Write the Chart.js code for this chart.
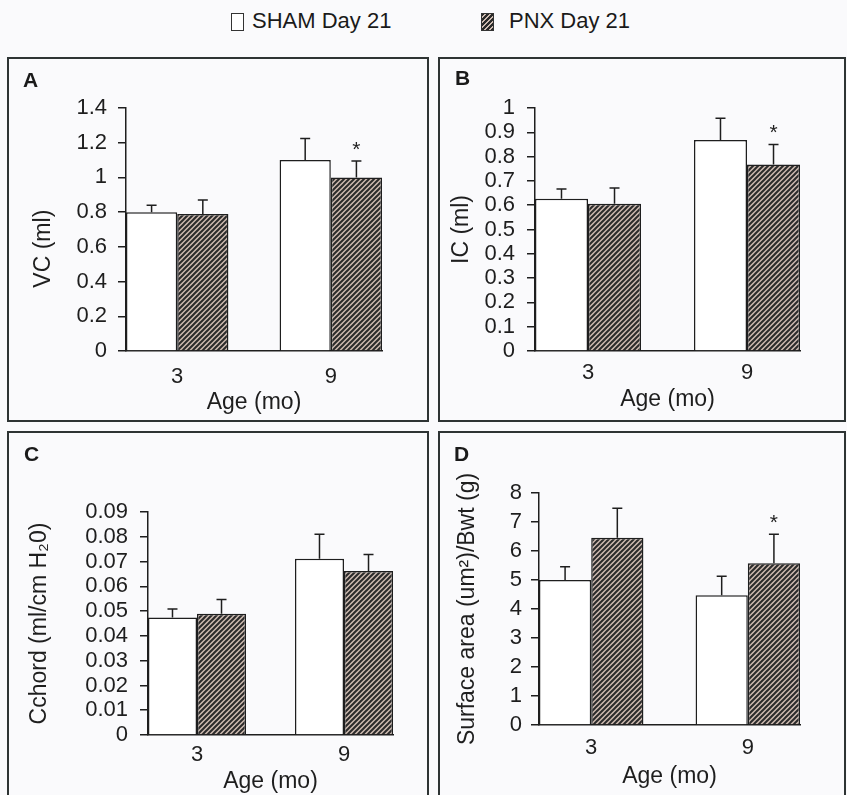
<!DOCTYPE html>
<html>
<head>
<meta charset="utf-8">
<script src="https://cdn.jsdelivr.net/npm/chart.js@4.4.0/dist/chart.umd.min.js"></script>
<style>
  body { margin: 0; width: 847px; height: 795px; position: relative; overflow: hidden;
         background: #fafafc; color: #1a1a1a; font-family: 'Liberation Sans', Arial, sans-serif; }
  .panel { position: absolute; border: 2px solid #2e3434; box-sizing: border-box; }
  .panel canvas { position: absolute; left: 0; top: 0; }
  .letter { position: absolute; font-weight: bold; font-size: 21px; line-height: 20px; }
  .leg { position: absolute; font-size: 22px; line-height: 24px; white-space: nowrap; }
  .swatch { position: absolute; border: 1.5px solid #333; box-sizing: border-box; }
</style>
</head>
<body>

<div class="swatch" style="left:231px;top:13px;width:13px;height:18px;background:#fff"></div>
<div class="leg" style="left:252px;top:9px">SHAM Day 21</div>
<div class="swatch" style="left:481px;top:13px;width:13px;height:18px;
     background:repeating-linear-gradient(135deg,#2a2a2a 0 2px,#cdbab0 2px 3.5px)"></div>
<div class="leg" style="left:509px;top:9px">PNX Day 21</div>

<div class="panel" style="left:7px;top:57px;width:422px;height:365px"><canvas id="chartA" width="418" height="361"></canvas></div>
<div class="panel" style="left:438px;top:57px;width:408px;height:365px"><canvas id="chartB" width="404" height="361"></canvas></div>
<div class="panel" style="left:7px;top:431px;width:422px;height:370px"><canvas id="chartC" width="418" height="362"></canvas></div>
<div class="panel" style="left:438px;top:431px;width:408px;height:370px"><canvas id="chartD" width="404" height="362"></canvas></div>

<div class="letter" style="left:23px;top:70px">A</div>
<div class="letter" style="left:455px;top:68px">B</div>
<div class="letter" style="left:24px;top:444px">C</div>
<div class="letter" style="left:454px;top:444px">D</div>

<script>
// ── Data ───────────────────────────────────────────────────────────────────

const AGES = ["3", "9"];

// A — vital capacity
const vcSham     = [0.80, 1.10];
const vcShamErr  = [0.04, 0.125];
const vcPnx      = [0.79, 1.00];
const vcPnxErr   = [0.08, 0.095];
const vcStars    = [false, true];
const vcTicks    = [0, 0.2, 0.4, 0.6, 0.8, 1, 1.2, 1.4];

// B — inspiratory capacity
const icSham     = [0.627, 0.868];
const icShamErr  = [0.04, 0.09];
const icPnx      = [0.606, 0.768];
const icPnxErr   = [0.065, 0.082];
const icStars    = [false, true];
const icTicks    = [0, 0.1, 0.2, 0.3, 0.4, 0.5, 0.6, 0.7, 0.8, 0.9, 1];

// C — chord compliance
const ccSham     = [0.0474, 0.0711];
const ccShamErr  = [0.0035, 0.0099];
const ccPnx      = [0.0489, 0.0662];
const ccPnxErr   = [0.0058, 0.0066];
const ccStars    = [false, false];
const ccTicks    = [0, 0.01, 0.02, 0.03, 0.04, 0.05, 0.06, 0.07, 0.08, 0.09];

// D — surface area / body weight
const saSham     = [5.0, 4.47];
const saShamErr  = [0.46, 0.66];
const saPnx      = [6.46, 5.58];
const saPnxErr   = [1.01, 1.0];
const saStars    = [false, true];
const saTicks    = [0, 1, 2, 3, 4, 5, 6, 7, 8];

// ── Styling ────────────────────────────────────────────────────────────────

const INK = "#1e1e1e";
const TICK_SIZE = 22;
const TITLE_SIZE = 23;

Chart.defaults.font.family = "'Liberation Sans', Arial, sans-serif";
Chart.defaults.color = INK;

function hatch() {
  const c = document.createElement("canvas");
  c.width = 5; c.height = 5;
  const g = c.getContext("2d");
  g.fillStyle = "#cdbab0";
  g.fillRect(0, 0, 5, 5);
  g.strokeStyle = "#2a2a2a";
  g.lineWidth = 2;
  g.beginPath();
  g.moveTo(-1, 6); g.lineTo(6, -1);
  g.moveTo(-1, 1); g.lineTo(1, -1);
  g.moveTo(4, 6); g.lineTo(6, 4);
  g.stroke();
  return g.createPattern(c, "repeat");
}
const HATCH = hatch();

// error bars (upper only) + significance stars, positioned with the y scale
const errorBars = {
  id: "errorBars",
  afterDatasetsDraw(chart) {
    const { ctx } = chart;
    const ys = chart.scales.y;
    chart.data.datasets.forEach((ds, i) => {
      chart.getDatasetMeta(i).data.forEach((bar, j) => {
        const top = ys.getPixelForValue(ds.data[j].y + ds.errors[j]);
        ctx.save();
        ctx.strokeStyle = INK;
        ctx.lineWidth = 1.5;
        ctx.beginPath();
        ctx.moveTo(bar.x, bar.y);
        ctx.lineTo(bar.x, top);
        ctx.moveTo(bar.x - 5, top);
        ctx.lineTo(bar.x + 5, top);
        ctx.stroke();
        if (ds.stars && ds.stars[j]) {
          ctx.fillStyle = INK;
          ctx.font = "21px 'Liberation Sans', Arial, sans-serif";
          ctx.textAlign = "center";
          ctx.textBaseline = "alphabetic";
          ctx.fillText("*", bar.x, top - 5);
        }
        ctx.restore();
      });
    });
  },
};

function pts(vals) { return vals.map((v, i) => ({ x: i, y: v })); }
function fmtTick(v) { return String(+v.toFixed(3)); }

// g: where the axes sit on the page (so the four panels line up with the figure)
function makePanel(id, p, g) {
  const canvas = document.getElementById(id);
  const box = canvas.parentElement.getBoundingClientRect();
  const cx = box.left + 2, cy = box.top + 2;
  const cw = canvas.width, ch = canvas.height;

  const padL = g.yTitleX - cx - TITLE_SIZE / 2;
  const axisBottom = g.xTitleY - cy + TITLE_SIZE / 2;

  new Chart(canvas, {
    type: "bar",
    data: {
      datasets: [
        { label: "SHAM Day 21", data: pts(p.sham), errors: p.shamErr,
          backgroundColor: "#ffffff", borderColor: INK, borderWidth: 1.5 },
        { label: "PNX Day 21", data: pts(p.pnx), errors: p.pnxErr, stars: p.stars,
          backgroundColor: HATCH, borderColor: INK, borderWidth: 1.5 },
      ],
    },
    options: {
      responsive: false,
      animation: false,
      events: [],
      categoryPercentage: 0.667,
      barPercentage: 1,
      layout: {
        padding: {
          left: padL,
          right: cw - (g.rightX - cx),
          top: g.topY - cy,
          bottom: ch - axisBottom,
        },
      },
      plugins: { legend: { display: false }, tooltip: { enabled: false } },
      scales: {
        x: {
          type: "linear",
          offset: false,
          bounds: "data",
          min: -1 / 3,
          max: 4 / 3,
          afterBuildTicks: s => { s.ticks = AGES.map((_, i) => ({ value: i })); },
          afterFit: s => { s.height = axisBottom - (g.baseY - cy); },
          grid: { display: false, drawTicks: false, offset: false },
          border: { display: true, color: INK, width: 1.5 },
          ticks: {
            callback: v => AGES[v],
            padding: g.xTickDy - TICK_SIZE / 2,
            font: { size: TICK_SIZE, lineHeight: 1 },
            maxRotation: 0,
            autoSkip: false,
          },
          title: {
            display: true, text: "Age (mo)", padding: 0,
            font: { size: TITLE_SIZE, lineHeight: 1 },
          },
        },
        y: {
          min: 0,
          max: p.ticks[p.ticks.length - 1],
          afterBuildTicks: s => { s.ticks = p.ticks.map(v => ({ value: v })); },
          afterFit: s => { s.width = (g.axisX - cx) - padL; },
          grid: { drawOnChartArea: false, drawTicks: true, tickLength: 8, color: INK, lineWidth: 1.5 },
          border: { display: true, color: INK, width: 1.5 },
          ticks: {
            callback: fmtTick,
            padding: g.tickPad,
            font: { size: TICK_SIZE, lineHeight: 1 },
            autoSkip: false,
          },
          title: {
            display: true, text: p.yTitle, padding: 0,
            font: { size: TITLE_SIZE, lineHeight: 1 },
          },
        },
      },
    },
    plugins: [errorBars],
  });
}

makePanel("chartA",
  { sham: vcSham, shamErr: vcShamErr, pnx: vcPnx, pnxErr: vcPnxErr, stars: vcStars,
    ticks: vcTicks,
    // trailing spaces push the label down to where the figure has it
    yTitle: "VC (ml)\u00a0\u00a0\u00a0\u00a0\u00a0\u00a0" },
  { axisX: 126, rightX: 382, topY: 108, baseY: 351, yTitleX: 44, xTitleY: 403, tickPad: 11, xTickDy: 26 });

makePanel("chartB",
  { sham: icSham, shamErr: icShamErr, pnx: icPnx, pnxErr: icPnxErr, stars: icStars,
    ticks: icTicks, yTitle: "IC (ml)" },
  { axisX: 535, rightX: 800, topY: 108, baseY: 351, yTitleX: 462, xTitleY: 400, tickPad: 12, xTickDy: 22 });

makePanel("chartC",
  { sham: ccSham, shamErr: ccShamErr, pnx: ccPnx, pnxErr: ccPnxErr, stars: ccStars,
    ticks: ccTicks, yTitle: "Cchord (ml/cm H\u20820)" },
  { axisX: 148, rightX: 393, topY: 512, baseY: 735, yTitleX: 40, xTitleY: 782, tickPad: 12, xTickDy: 20 });

makePanel("chartD",
  { sham: saSham, shamErr: saShamErr, pnx: saPnx, pnxErr: saPnxErr, stars: saStars,
    ticks: saTicks, yTitle: "Surface area (um\u00b2)/Bwt (g)" },
  { axisX: 539, rightX: 800, topY: 493, baseY: 725, yTitleX: 468, xTitleY: 777, tickPad: 9, xTickDy: 23 });
</script>
</body>
</html>
